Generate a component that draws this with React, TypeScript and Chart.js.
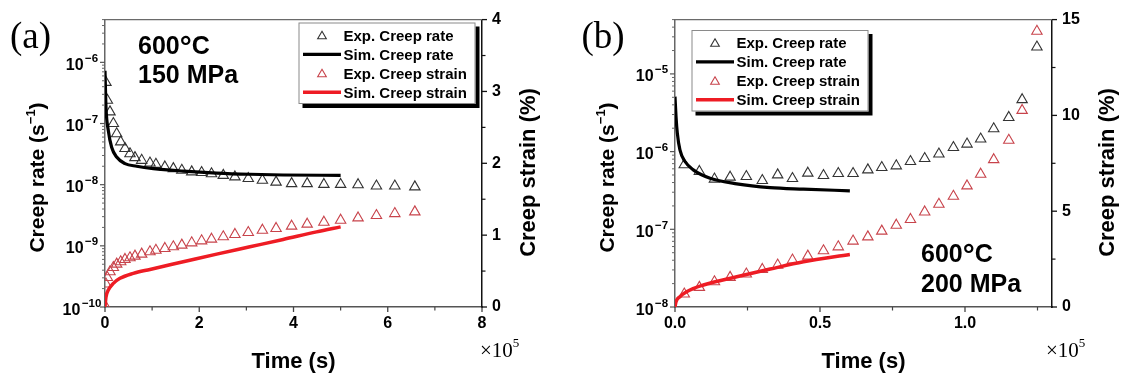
import React, { useEffect, useRef } from "react";
import { Chart, registerables } from "chart.js";
Chart.register(...registerables);

const FONT = '"Liberation Sans", Arial, Helvetica, sans-serif';
const SERIF = '"Liberation Serif", "Times New Roman", serif';

// ---------------- Panel (a): 600°C, 150 MPa (time in units of 1e5 s) ----------------
const timeA_expRate = [0.02, 0.05, 0.106, 0.177, 0.248, 0.333, 0.424, 0.53, 0.636, 0.778, 0.954, 1.08, 1.27, 1.45, 1.63, 1.84, 2.05, 2.26, 2.51, 2.757, 3.04, 3.34, 3.63, 3.96, 4.29, 4.645, 5.0, 5.37, 5.76, 6.15, 6.575];
const rateA_exp = [4.7e-7, 2.4e-7, 1.55e-7, 1.0e-7, 6.8e-8, 5.0e-8, 3.9e-8, 3.2e-8, 2.77e-8, 2.5e-8, 2.26e-8, 2.15e-8, 1.95e-8, 1.83e-8, 1.72e-8, 1.62e-8, 1.58e-8, 1.51e-8, 1.42e-8, 1.34e-8, 1.26e-8, 1.18e-8, 1.1e-8, 1.04e-8, 1.04e-8, 1.01e-8, 1.01e-8, 1.0e-8, 9.5e-9, 9.5e-9, 9.2e-9];
const timeA_expStrain = [0, 0.02, 0.05, 0.106, 0.177, 0.248, 0.333, 0.424, 0.53, 0.636, 0.778, 0.954, 1.08, 1.27, 1.45, 1.63, 1.84, 2.05, 2.26, 2.51, 2.757, 3.04, 3.34, 3.63, 3.96, 4.29, 4.645, 5.0, 5.37, 5.76, 6.15, 6.575];
const strainA_exp = [0.02, 0.32, 0.41, 0.49, 0.55, 0.597, 0.63, 0.662, 0.685, 0.708, 0.736, 0.768, 0.79, 0.815, 0.838, 0.861, 0.893, 0.921, 0.944, 0.977, 1.01, 1.037, 1.069, 1.093, 1.125, 1.153, 1.18, 1.208, 1.24, 1.273, 1.3, 1.324];
const timeA_simRate = [0, 0.021, 0.07, 0.141, 0.247, 0.424, 0.672, 1.025, 1.66, 2.37, 3.075, 3.78, 5.0];
const rateA_sim = [7.3e-7, 1.85e-7, 7.7e-8, 4.1e-8, 2.83e-8, 2.21e-8, 2.0e-8, 1.83e-8, 1.67e-8, 1.55e-8, 1.48e-8, 1.44e-8, 1.42e-8];
const timeA_simStrain = [0, 0.021, 0.07, 0.177, 0.318, 0.6, 0.954, 1.66, 2.37, 3.075, 3.78, 4.49, 5.0];
const strainA_sim = [0.004, 0.14, 0.236, 0.329, 0.399, 0.468, 0.523, 0.629, 0.736, 0.838, 0.94, 1.046, 1.115];
const xTicksA = [0, 2, 4, 6, 8];
const xMinorA = [1, 3, 5, 7];
const y2TicksA = [0, 1, 2, 3, 4];
const y2MinorA = [0.5, 1.5, 2.5, 3.5];
const decadesA = [-10, -9, -8, -7, -6];

// ---------------- Panel (b): 600°C, 200 MPa ----------------
const timeB_exp = [0.032, 0.084, 0.136, 0.19, 0.246, 0.301, 0.354, 0.405, 0.458, 0.512, 0.563, 0.614, 0.665, 0.713, 0.763, 0.812, 0.861, 0.91, 0.96, 1.007, 1.054, 1.099, 1.151, 1.197, 1.248];
const rateB_exp = [6.76e-7, 5.55e-7, 4.43e-7, 4.69e-7, 4.78e-7, 4.25e-7, 5.02e-7, 4.5e-7, 5.28e-7, 4.92e-7, 5.22e-7, 5.22e-7, 5.82e-7, 6.24e-7, 6.56e-7, 7.45e-7, 8.15e-7, 9.3e-7, 1.13e-6, 1.25e-6, 1.45e-6, 1.97e-6, 2.75e-6, 4.66e-6, 2.22e-5];
const strainB_exp = [0.677, 1.024, 1.319, 1.545, 1.719, 1.962, 2.187, 2.448, 2.656, 2.934, 3.14, 3.44, 3.66, 3.96, 4.27, 4.57, 4.96, 5.36, 5.78, 6.32, 6.93, 7.69, 8.7, 10.26, 14.39];
const timeB_simRate = [0, 0.0035, 0.008, 0.017, 0.0346, 0.063, 0.121, 0.213, 0.328, 0.443, 0.603];
const rateB_sim = [5.1e-6, 2.83e-6, 1.73e-6, 1.05e-6, 7.45e-7, 5.82e-7, 4.55e-7, 3.85e-7, 3.44e-7, 3.29e-7, 3.13e-7];
const timeB_simStrain = [0, 0.0035, 0.017, 0.04, 0.098, 0.213, 0.328, 0.443, 0.603];
const strainB_sim = [0, 0.28, 0.54, 0.8, 1.15, 1.58, 1.98, 2.36, 2.74];
const xTicksB = [0, 0.5, 1.0];
const xMinorB = [0.25, 0.75, 1.25];
const y2TicksB = [0, 5, 10, 15];
const y2MinorB = [2.5, 7.5, 12.5];
const decadesB = [-8, -7, -6, -5];

const legendLabels = ["Exp. Creep rate", "Sim. Creep rate", "Exp. Creep strain", "Sim. Creep strain"];

const RED_LINE = "#ee1c24";
const RED_TRI = "#c8434b";
const GRAY_TRI = "#333333";

const zip = (xs: number[], ys: number[]) => xs.map((x, i) => ({ x, y: ys[i] }));

type Seg = { t: string; size: number; dy?: number; gap?: number; family?: string; weight?: string };
const fontOf = (s: Seg) => `${s.weight ?? "bold"} ${s.size}px ${s.family ?? FONT}`;

function drawRich(ctx: CanvasRenderingContext2D, x: number, y: number, segs: Seg[], align: "left" | "center" | "right" = "left") {
  ctx.textBaseline = "alphabetic";
  ctx.textAlign = "left";
  const widths = segs.map((s) => {
    ctx.font = fontOf(s);
    return ctx.measureText(s.t).width + (s.gap ?? 0);
  });
  const total = widths.reduce((a, b) => a + b, 0);
  let cx = align === "left" ? x : align === "center" ? x - total / 2 : x - total;
  segs.forEach((s, i) => {
    ctx.font = fontOf(s);
    cx += s.gap ?? 0;
    ctx.fillText(s.t, cx, y + (s.dy ?? 0));
    cx += widths[i] - (s.gap ?? 0);
  });
}

function seg(ctx: CanvasRenderingContext2D, x1: number, y1: number, x2: number, y2: number, color: string, w: number) {
  ctx.beginPath();
  ctx.strokeStyle = color;
  ctx.lineWidth = w;
  ctx.moveTo(x1, y1);
  ctx.lineTo(x2, y2);
  ctx.stroke();
}

function tri(ctx: CanvasRenderingContext2D, x: number, y: number, r: number, color: string) {
  ctx.beginPath();
  ctx.strokeStyle = color;
  ctx.lineWidth = 1.1;
  ctx.moveTo(x, y - r);
  ctx.lineTo(x + 0.866 * r, y + 0.5 * r);
  ctx.lineTo(x - 0.866 * r, y + 0.5 * r);
  ctx.closePath();
  ctx.stroke();
}

type PanelSpec = {
  id: string;
  offset: number;
  width: number;
  tag: string;
  xMax: number;
  yMin: number;
  yMax: number;
  y2Max: number;
  xTicks: number[];
  xMinor: number[];
  xDigits: number;
  y2Ticks: number[];
  y2Minor: number[];
  decades: number[];
  expRate: { x: number; y: number }[];
  expStrain: { x: number; y: number }[];
  simRate: { x: number; y: number }[];
  simStrain: { x: number; y: number }[];
  legend: { x: number; y: number; w: number; h: number };
  note: { x: number; y1: number; y2: number; line2: string };
  tagX: number;
  expX: number;
  rightTitleX: number;
};

const specA: PanelSpec = {
  id: "a",
  offset: 0,
  width: 570,
  tag: "(a)",
  xMax: 8,
  yMin: 1e-10,
  yMax: 5e-6,
  y2Max: 4,
  xTicks: xTicksA,
  xMinor: xMinorA,
  xDigits: 0,
  y2Ticks: y2TicksA,
  y2Minor: y2MinorA,
  decades: decadesA,
  expRate: zip(timeA_expRate, rateA_exp),
  expStrain: zip(timeA_expStrain, strainA_exp),
  simRate: zip(timeA_simRate, rateA_sim),
  simStrain: zip(timeA_simStrain, strainA_sim),
  legend: { x: 298.5, y: 22.5, w: 177, h: 81.5 },
  note: { x: 138, y1: 53.5, y2: 83, line2: "150 MPa" },
  tagX: 10,
  expX: 480,
  rightTitleX: 535,
};

const specB: PanelSpec = {
  id: "b",
  offset: 570,
  width: 553,
  tag: "(b)",
  xMax: 1.3,
  yMin: 1e-8,
  yMax: 5e-5,
  y2Max: 15,
  xTicks: xTicksB,
  xMinor: xMinorB,
  xDigits: 1,
  y2Ticks: y2TicksB,
  y2Minor: y2MinorB,
  decades: decadesB,
  expRate: zip(timeB_exp, rateB_exp),
  expStrain: zip(timeB_exp, strainB_exp),
  simRate: zip(timeB_simRate, rateB_sim),
  simStrain: zip(timeB_simStrain, strainB_sim),
  legend: { x: 121.5, y: 30, w: 177, h: 81.5 },
  note: { x: 351, y1: 262, y2: 292, line2: "200 MPa" },
  tagX: 11.5,
  expX: 476,
  rightTitleX: 543.5,
};

const decor = (p: PanelSpec) => ({
  id: "decor_" + p.id,
  afterDraw(chart: any) {
    const ctx: CanvasRenderingContext2D = chart.ctx;
    const a = chart.chartArea;
    const sx = chart.scales.x;
    const sy = chart.scales.y;
    const sy2 = chart.scales.y2;
    ctx.save();
    // top frame
    seg(ctx, a.left, a.top, a.right, a.top, "#6a6a6a", 1.3);
    // x ticks
    p.xTicks.forEach((v) => {
      const px = sx.getPixelForValue(v);
      seg(ctx, px, a.bottom, px, a.bottom + 5, "#444", 1.3);
    });
    p.xMinor.forEach((v) => {
      const px = sx.getPixelForValue(v);
      seg(ctx, px, a.bottom, px, a.bottom + 3.5, "#444", 1.2);
    });
    // log ticks
    const dMin = p.decades[0];
    const dMax = p.decades[p.decades.length - 1];
    for (let d = dMin; d <= dMax; d++) {
      const py = sy.getPixelForValue(Math.pow(10, d));
      seg(ctx, a.left - 5, py, a.left, py, "#555", 1.2);
      for (let m = 2; m <= 9; m++) {
        const v = m * Math.pow(10, d);
        if (v > p.yMax) break;
        const pm = sy.getPixelForValue(v);
        seg(ctx, a.left - 3, pm, a.left, pm, "#666", 1);
      }
    }
    // right ticks
    p.y2Ticks.forEach((v) => {
      const py = sy2.getPixelForValue(v);
      seg(ctx, a.right, py, a.right + 5, py, "#111", 1.3);
    });
    p.y2Minor.forEach((v) => {
      const py = sy2.getPixelForValue(v);
      seg(ctx, a.right, py, a.right + 3.5, py, "#111", 1.2);
    });
    ctx.fillStyle = "#000";
    // log labels with superscript exponent
    p.decades.forEach((d) => {
      const py = sy.getPixelForValue(Math.pow(10, d));
      drawRich(ctx, a.left - 23, py + 7.5, [
        { t: "10", size: 16 },
        { t: "\u2212" + Math.abs(d), size: 11.5, dy: -8, gap: 1.5 },
      ], "center");
    });
    // axis titles
    drawRich(ctx, (a.left + a.right) / 2, 368, [{ t: "Time (s)", size: 22 }], "center");
    ctx.save();
    ctx.translate(43.5, 177.5);
    ctx.rotate(-Math.PI / 2);
    drawRich(ctx, 0, 0, [
      { t: "Creep rate (s", size: 21 },
      { t: "\u22121", size: 13, dy: -9 },
      { t: ")", size: 21 },
    ], "center");
    ctx.restore();
    ctx.save();
    ctx.translate(p.rightTitleX, 172.5);
    ctx.rotate(-Math.PI / 2);
    drawRich(ctx, 0, 0, [{ t: "Creep strain (%)", size: 22 }], "center");
    ctx.restore();
    // multiplier
    drawRich(ctx, p.expX, 357, [
      { t: "\u00d710", size: 21, family: SERIF, weight: "normal" },
      { t: "5", size: 13, dy: -10, family: SERIF, weight: "normal" },
    ]);
    // panel tag
    drawRich(ctx, p.tagX, 48, [{ t: p.tag, size: 37, family: SERIF, weight: "normal" }]);
    // condition note
    drawRich(ctx, p.note.x, p.note.y1, [
      { t: "600", size: 25 },
      { t: "\u00b0", size: 30, dy: 3, gap: 0 },
      { t: "C", size: 25 },
    ]);
    drawRich(ctx, p.note.x, p.note.y2, [{ t: p.note.line2, size: 25 }]);
    // legend
    const L = p.legend;
    ctx.fillStyle = "#000";
    ctx.fillRect(L.x + 4, L.y + 4, L.w, L.h);
    ctx.fillStyle = "#fff";
    ctx.fillRect(L.x, L.y, L.w, L.h);
    ctx.strokeStyle = "#8a8a8a";
    ctx.lineWidth = 1;
    ctx.strokeRect(L.x + 0.5, L.y + 0.5, L.w - 1, L.h - 1);
    legendLabels.forEach((lab, i) => {
      const cy = L.y + 12.8 + i * 19;
      const symX = L.x + 23.5;
      if (i === 0) tri(ctx, symX, cy + 1, 5, GRAY_TRI);
      if (i === 2) tri(ctx, symX, cy + 1, 5, RED_TRI);
      if (i === 1) seg(ctx, L.x + 4.5, cy, L.x + 42.5, cy, "#000", 3.2);
      if (i === 3) seg(ctx, L.x + 4.5, cy, L.x + 42.5, cy, RED_LINE, 3.5);
      ctx.fillStyle = "#000";
      drawRich(ctx, L.x + 45, cy + 5.4, [{ t: lab, size: 15 }]);
    });
    ctx.restore();
  },
});

function buildConfig(p: PanelSpec): any {
  const tickFont = { family: FONT, size: 16, weight: "bold" as const };
  return {
    type: "scatter",
    data: {
      datasets: [
        {
          label: "Sim. Creep rate",
          data: p.simRate,
          yAxisID: "y",
          showLine: true,
          borderColor: "#000",
          borderWidth: 3.2,
          pointRadius: 0,
          cubicInterpolationMode: "monotone",
        },
        {
          label: "Sim. Creep strain",
          data: p.simStrain,
          yAxisID: "y2",
          showLine: true,
          borderColor: RED_LINE,
          borderWidth: 3.5,
          pointRadius: 0,
          cubicInterpolationMode: "monotone",
        },
        {
          label: "Exp. Creep rate",
          data: p.expRate,
          yAxisID: "y",
          showLine: false,
          pointStyle: "triangle",
          pointRadius: 6,
          borderColor: GRAY_TRI,
          backgroundColor: "rgba(0,0,0,0)",
          borderWidth: 1.1,
        },
        {
          label: "Exp. Creep strain",
          data: p.expStrain,
          yAxisID: "y2",
          showLine: false,
          pointStyle: "triangle",
          pointRadius: 6,
          borderColor: RED_TRI,
          backgroundColor: "rgba(0,0,0,0)",
          borderWidth: 1.1,
        },
      ],
    },
    options: {
      responsive: false,
      animation: false,
      events: [],
      layout: { padding: { top: 19, left: 0, right: 0, bottom: 0 } },
      plugins: { legend: { display: false }, tooltip: { enabled: false }, title: { display: false } },
      scales: {
        x: {
          type: "linear",
          position: "bottom",
          min: 0,
          max: p.xMax,
          afterFit: (s: any) => {
            s.height = 70;
          },
          afterBuildTicks: (s: any) => {
            s.ticks = p.xTicks.map((v) => ({ value: v }));
          },
          grid: { display: false, drawTicks: false },
          border: { display: true, color: "#555", width: 1.5 },
          ticks: {
            padding: 7,
            color: "#000",
            font: tickFont,
            maxRotation: 0,
            autoSkip: false,
            callback: (v: any) => Number(v).toFixed(p.xDigits),
          },
        },
        y: {
          type: "logarithmic",
          position: "left",
          min: p.yMin,
          max: p.yMax,
          afterFit: (s: any) => {
            s.width = 105;
          },
          grid: { display: false, drawTicks: false },
          border: { display: true, color: "#666", width: 1.5 },
          ticks: { display: false },
        },
        y2: {
          type: "linear",
          position: "right",
          min: 0,
          max: p.y2Max,
          afterFit: (s: any) => {
            s.width = p.width - 482;
          },
          afterBuildTicks: (s: any) => {
            s.ticks = p.y2Ticks.map((v) => ({ value: v }));
          },
          grid: { display: false, drawTicks: false },
          border: { display: true, color: "#111", width: 1.5 },
          ticks: {
            padding: 10,
            color: "#000",
            font: tickFont,
            autoSkip: false,
            callback: (v: any) => String(v),
          },
        },
      },
    },
    plugins: [decor(p)],
  };
}

function Panel({ spec }: { spec: PanelSpec }) {
  const ref = useRef<HTMLCanvasElement>(null);
  useEffect(() => {
    if (!ref.current) return;
    const chart = new Chart(ref.current, buildConfig(spec));
    return () => chart.destroy();
  }, [spec]);
  return (
    <canvas
      ref={ref}
      width={spec.width}
      height={377}
      style={{ position: "absolute", left: spec.offset, top: 0, width: spec.width, height: 377 }}
    />
  );
}

export default function App() {
  return (
    <div style={{ position: "fixed", left: 0, top: 0, width: 1123, height: 377, background: "#fff", overflow: "hidden" }}>
      <Panel spec={specA} />
      <Panel spec={specB} />
    </div>
  );
}
